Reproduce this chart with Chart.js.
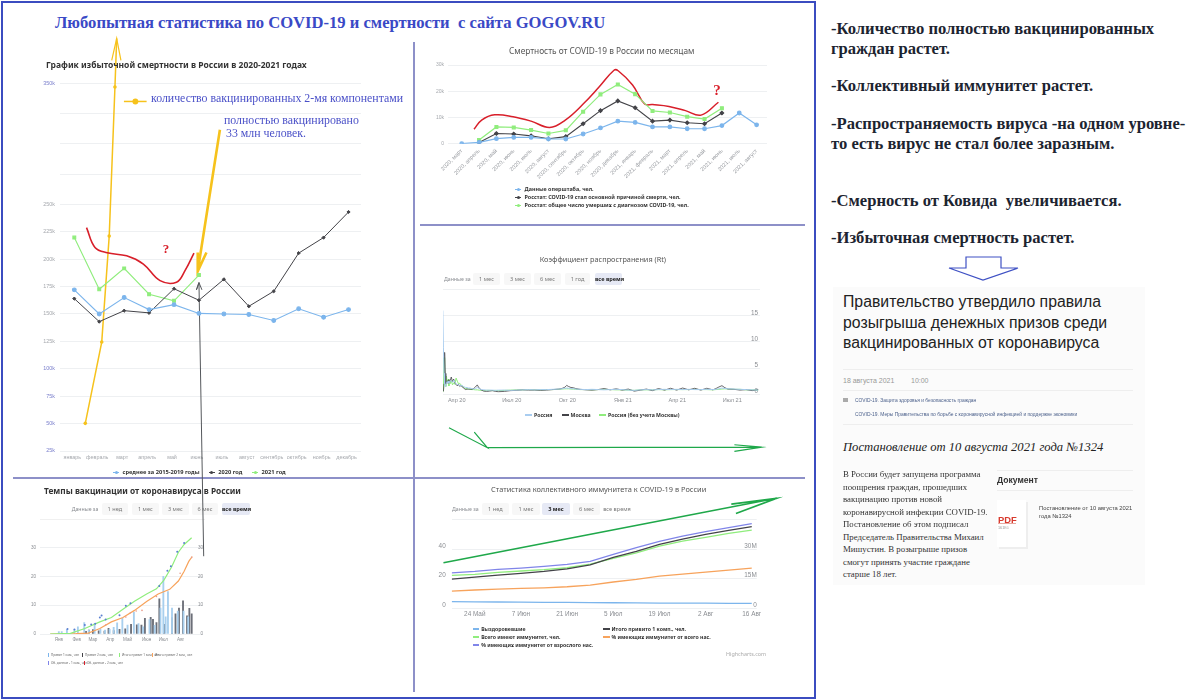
<!DOCTYPE html>
<html lang="ru">
<head>
<meta charset="utf-8">
<title>Статистика COVID-19</title>
<script src="https://cdn.jsdelivr.net/npm/chart.js@4"></script>
<style>
html, body { margin: 0; padding: 0; background: #fff; width: 1200px; height: 699px; overflow: hidden; }
#page { position: absolute; left: 0; top: 0; width: 1200px; height: 699px; font-family: "Noto Sans", sans-serif; }
canvas { position: absolute; }
.t { position: absolute; white-space: nowrap; transform: translateY(-50%); }
.b { position: absolute; }
</style>
</head>
<body>
<div id="page"></div>
<script>
// excess mortality, thousands
var monthNames = ['январь', 'февраль', 'март', 'апрель', 'май', 'июнь', 'июль', 'август', 'сентябрь', 'октябрь', 'ноябрь', 'декабрь'];
var mortTicks = [25, 50, 75, 100, 125, 150, 175, 200, 225, 250, 275, 300, 325, 350];
var mortAvg = [172, 150, 165, 154, 158.5, 150.5, 150, 149.5, 144, 154.7, 147, 154];
var mort2020 = [164, 143, 153, 151, 173, 162.5, 181.6, 157, 170.7, 205.5, 219.7, 243];
var mort2021 = [219.7, 172.5, 191.6, 168, 162, 185.5];
var mortRedX = [0.49, 0.83, 1.32, 2.1, 2.77, 3.44, 4.1, 4.44, 4.8];
var mortRedY = [228.8, 210.7, 205.8, 203, 195.5, 180.4, 179, 189.5, 205.5];
var vacc2X = [0.44, 1.1, 1.4, 1.63];
var vacc2Y = [50.2, 124.4, 221, 347];
var vacc2ArrowX = [1.5, 1.7, 1.87];
var vacc2ArrowY = [369, 387, 369];
var vaccKeyX = [1.99, 2.45, 2.9];
var vaccKeyY = [335, 335, 335];
var fullArrowX = [5.84, 4.95, 4.95, 4.95, 5.3];
var fullArrowY = [311.6, 188.9, 206, 188.9, 206];
var greyArrowX = [5.19, 5.0, 4.9, 5.0, 5.12];
var greyArrowY = [-71, 178.6, 172, 178.6, 172];

// COVID deaths by month, thousands
var deathMonths = ['2020, март', '2020, апрель', '2020, май', '2020, июнь', '2020, июль', '2020, август', '2020, сентябрь', '2020, октябрь', '2020, ноябрь', '2020, декабрь', '2021, январь', '2021, февраль', '2021, март', '2021, апрель', '2021, май', '2021, июнь', '2021, июль', '2021, август'];
var deathsOper = [0, 0.5, 1.9, 2.4, 2.4, 1.8, 1.8, 3.7, 6, 8.6, 8.1, 6.4, 6.4, 5.7, 5.7, 6.9, 11.7, 7.2];
var deathsMain = [null, 0.5, 3.9, 3.7, 3, 1.9, 2.7, 7.6, 12.6, 16.3, 13.7, 8.6, 9, 8, 7.6, 11.7];
var deathsAll = [null, 1.4, 6.4, 6.2, 5.2, 3.9, 5.1, 12.2, 18.8, 22.6, 18.9, 12.5, 11.9, 10.3, 9.4, 13.5];
var deathsRedX = [0.71, 1.15, 1.9, 2.96, 4, 5.07, 5.97, 7, 7.93, 8.78, 9.02, 9.85, 10.55, 11, 11.95, 12.9, 13.8, 14.8];
var deathsRedY = [5.5, 9, 11, 10.3, 8.6, 6.2, 9, 15.1, 21.7, 28, 27.8, 22.4, 15.1, 14.9, 14.2, 12.6, 10.9, 15.8];

// Rt, x is days since 1 March 2020
var rtTickDays = [31, 122, 214, 306, 396, 487];
var rtTickNames = ['Апр 20', 'Июл 20', 'Окт 20', 'Янв 21', 'Апр 21', 'Июл 21'];
var rtDays = [8, 9, 10, 11, 12, 13, 14, 15, 16, 17, 18, 19, 20,
  22, 24, 26, 28, 30, 32, 34, 36, 38, 40, 42, 44, 46, 48, 50,
  53, 56, 59, 62, 65, 68, 72, 76, 80, 85, 90, 95, 100,
  110, 120, 130, 140, 150, 160, 170, 180, 190, 200,
  205, 210, 213, 216, 220, 224, 228, 235,
  245, 255, 265, 275, 285, 295, 305, 315, 325, 335, 345, 355, 365, 375, 385, 395, 405, 415, 425, 435, 445, 455,
  460, 465, 470, 475, 480, 490, 500, 510, 520, 530];
var rtRussia = [16, 9, 4, 2, 1.5, 1.8, 2.2, 2.4, 2.2, 2.5, 2.1, 2.4, 2.6,
  2.5, 2.3, 2.7, 2.3, 2, 1.9, 1.8, 1.7, 1.6, 1.7, 1.5, 1.4, 1.3, 1.3, 1.2,
  1.2, 1.1, 1, 1.1, 1.3, 1.1, 0.9, 0.85, 0.8, 0.8, 0.8, 0.75, 0.8,
  0.8, 0.75, 0.8, 0.85, 0.9, 0.85, 0.9, 0.9, 0.95, 1,
  1.05, 1.15, 1.2, 1.15, 1.1, 1.05, 1, 0.95,
  0.9, 0.95, 0.9, 0.85, 0.9, 0.95, 0.9, 0.8, 0.75, 0.85, 0.9, 0.85, 0.9, 0.95, 0.9, 0.95, 0.9, 0.95, 0.9, 0.9, 0.95, 0.9,
  0.95, 1.05, 1.2, 1.1, 1.05, 1, 0.95, 0.9, 0.85, 0.8];
var rtMoscow = [0.5, 0.6, 2, 8, 4, 2, 2.4, 2.2, 2.6, 2.1, 2.8, 2.3, 2.5,
  3.3, 2.4, 2.9, 2.1, 1.9, 1.6, 1.9, 1.5, 1.7, 1.4, 1.3, 1, 0.9, 1, 1,
  1, 0.95, 1.1, 1.4, 1.8, 1.2, 0.8, 0.6, 0.55, 0.6, 0.7, 0.55, 0.5,
  0.55, 0.7, 0.75, 0.85, 0.8, 0.8, 0.75, 0.8, 0.9, 1,
  1.1, 1.35, 1.7, 1.5, 1.3, 1.25, 1.1, 0.95,
  0.85, 0.8, 0.9, 1.1, 0.85, 1.05, 0.8, 1, 0.6, 0.8, 1, 0.7, 1.1, 0.8, 1.15, 0.8, 1.2, 0.85, 1.15, 0.8, 1.15, 0.85,
  1.1, 1.4, 1.65, 1.25, 1, 0.95, 0.8, 0.9, 0.7, 0.9];
var rtRegions = [0.4, 1, 7, 4, 2, 1.5, 3.5, 2.2, 2.5, 2.9, 1.6, 2.4, 2,
  2.6, 1.8, 2.2, 1.9, 3.1, 2.5, 2, 2.1, 1.8, 1.6, 1.4, 1.2, 1.1, 1.05, 1,
  0.95, 0.9, 0.9, 0.85, 0.85, 0.8, 0.75, 0.7, 0.75, 0.75, 0.7, 0.75, 0.7,
  0.75, 0.8, 0.85, 0.85, 0.9, 0.85, 0.85, 0.9, 0.9, 0.95,
  1, 1.05, 1.05, 1.05, 1, 1, 0.95, 0.9,
  0.9, 0.85, 0.9, 0.95, 0.9, 0.85, 0.85, 0.8, 0.75, 0.85, 0.85, 0.85, 0.9, 0.85, 0.9, 0.9, 0.9, 0.9, 0.95, 0.9, 0.9, 0.85,
  0.9, 0.95, 1, 1.05, 1, 0.95, 0.95, 0.85, 0.85, 0.8];
var rtArrowX = [18.2, 81.6, 60.1, 81.6, 536, 490.6, 536, 490.6];
var rtArrowY = [-6.38, -10.2, -7.22, -10.2, -10.1, -9.64, -10.1, -10.9];

// vaccination pace, millions, x is days from the left edge of the plot
var vaccTickDays = [15, 46, 74, 104, 134, 167, 196, 226];
var vaccTickNames = ['Янв', 'Фев', 'Мар', 'Апр', 'Май', 'Июн', 'Июл', 'Авг'];
var vaccLabels = ['0', '10', '20', '30'];
var firstDays = [0, 35, 60, 86, 106, 126, 146, 167, 184, 197, 210, 222, 232, 245];
var firstTotal = [0, 0.2, 1.9, 4.2, 5.7, 8.6, 11.4, 13.9, 15.7, 18.7, 23.2, 28.4, 31.1, 33.4];
var secondDays = [0, 45, 66, 86, 106, 126, 146, 167, 187, 207, 222, 232, 240, 246];
var secondTotal = [0, 0.1, 0.3, 1.9, 4.2, 5.7, 8.2, 11.25, 13.9, 15.5, 18.4, 21.8, 25.2, 26.9];
var dose1Days = [16, 21, 30, 43, 49, 60, 68, 78, 88, 96, 104, 111, 117, 126, 135, 146, 154, 162, 173, 182, 192, 197, 201, 205, 212, 222, 232, 240];
var dose1 = [0.8, 0.8, 1.6, 1.6, 2.5, 4, 1.4, 3.6, 1.7, 1.4, 1.6, 2.3, 3.9, 5.4, 3.1, 7.6, 3.6, 2.5, 5, 3, 9, 20, 6, 14.7, 9, 8, 8, 6];
var dose2Days = [61, 66, 73, 83, 93, 100, 109, 119, 129, 139, 149, 157, 163, 173, 177, 183, 188, 196, 210, 216, 222, 229, 236, 240, 244];
var dose2 = [0.9, 1.4, 1.5, 1.1, 1, 2, 1.2, 1.6, 1.8, 3.4, 3.2, 3.1, 5.4, 5.8, 5.1, 4, 12.2, 3.4, 5.7, 7, 9, 11.5, 6.3, 8.9, 7];
var dotsBlueDays = [30, 42, 60, 71, 78, 86, 89, 96, 120, 131, 139, 189, 203, 209, 220, 232];
var dotsBlue = [1.7, 1.6, 3.1, 3.3, 3.6, 5.7, 6.4, 5, 6.5, 9.8, 10.7, 16.7, 22, 23.5, 28.6, 31.6];
var dotsRedDays = [96, 131, 139, 149, 159, 184, 225, 245];
var dotsRed = [3.1, 5.9, 7.4, 8, 8.2, 13, 21.1, 26.6];

// herd immunity, percent, x is days since 17 May 2021
var immTickDays = [7, 21, 35, 49, 63, 77, 91];
var immTickNames = ['24 Май', '7 Июн', '21 Июн', '5 Июл', '19 Июл', '2 Авг', '16 Авг'];
var immDays = [0, 7, 14, 21, 28, 35, 42, 49, 56, 63, 70, 77, 84, 91];
var immAdult = [24, 24.9, 26.3, 27.2, 28.3, 29.7, 31.7, 36.4, 40.9, 45.2, 48.8, 51.7, 54.4, 57.1];
var immVaccinated = [19.8, 21.1, 22.5, 23.6, 24.9, 26.7, 29.4, 34.4, 38.4, 43.1, 46.7, 49.9, 52.6, 55.1];
var immTotal = [22.2, 22.9, 24.3, 25.2, 26.1, 27.4, 29.9, 33.7, 37.5, 42, 45.4, 47.9, 50.6, 52.8];
var immShare = [11.7, 12.4, 13, 13.5, 13.9, 14.6, 15.7, 17.8, 19.6, 21.8, 23.1, 24.5, 25.8, 27.2];
var immRecovered = [4.5, 4.4, 4.3, 4.2, 4.1, 4, 3.9, 3.8, 3.7, 3.6, 3.5, 3.5, 3.4, 3.4];
var immArrowX = [-2.5, 98.5, 84.8, 98.5, 86.2];
var immArrowY = [30.8, 74.2, 70.3, 74.2, 64];

var BLUE = '#7cb5ec', DARK = '#434348', GREEN = '#90ed7d', ORANGE = '#f7a35c', PURPLE = '#8085e9';
var RED = '#d81f2a', YELLOW = '#f6c21c', ARROW = '#1fa84a', LINK = '#4a50c8';
var GRID = '#eef0f2';
var CAPTION = 'color:#555;filter:blur(.2px);';

var page = document.getElementById('page');

function txt(x, y, s, css) {
    var el = document.createElement('div');
    el.className = 't';
    el.style.cssText = 'left:' + x + 'px;top:' + y + 'px;' + css;
    el.textContent = s;
    page.appendChild(el);
    return el;
}

function rect(x, y, w, h, css) {
    var el = document.createElement('div');
    el.className = 'b';
    el.style.cssText = 'left:' + x + 'px;top:' + y + 'px;width:' + w + 'px;height:' + h + 'px;' + css;
    page.appendChild(el);
    return el;
}

function pts(xs, ys) {
    var out = [];
    for (var i = 0; i < ys.length; i++) {
        out.push({x: xs[i], y: ys[i]});
    }
    return out;
}

function seq(ys) {
    return pts(ys.map(function (v, i) { return i; }), ys);
}

function line(data, color, width, radius, extra) {
    return Object.assign({
        type: 'line', data: data, borderColor: color, backgroundColor: color,
        borderWidth: width, pointRadius: radius, pointHoverRadius: radius, tension: 0, fill: false
    }, extra || {});
}

function arrow(data, color, width) {
    return line(data, color, width, 0, {clip: false});
}

// the canvas is box, the axes are forced to land exactly on plot
// scale labels get clipped to the scale box, so the scales take all of the margin
function makeChart(box, plot, datasets, scales, css) {
    var c = document.createElement('canvas');
    c.width = box.w;
    c.height = box.h;
    c.style.cssText = 'left:' + box.x + 'px;top:' + box.y + 'px;width:' + box.w + 'px;height:' + box.h + 'px;' + (css || '');
    page.appendChild(c);
    var marginL = plot.l - box.x;
    var marginB = box.y + box.h - plot.b;
    var hasLeft = false;
    scales.x.afterFit = function (s) { s.height = marginB; };
    Object.keys(scales).forEach(function (k) {
        if (k != 'x') {
            var isRight = scales[k].position == 'right';
            if (!isRight) {
                hasLeft = true;
            }
            scales[k].afterFit = function (s) { s.width = isRight ? 0 : marginL; };
        }
        scales[k].border = scales[k].border || {display: false};
        scales[k].grid = Object.assign({drawTicks: false}, scales[k].grid);
    });
    return new Chart(c.getContext('2d'), {
        data: {datasets: datasets},
        options: {
            responsive: false,
            animation: false,
            layout: {padding: {left: hasLeft ? 0 : marginL, top: plot.t - box.y, right: box.x + box.w - plot.r, bottom: 0}},
            plugins: {legend: {display: false}, tooltip: {enabled: false}},
            events: [],
            scales: scales
        }
    });
}

function fixedTicks(values) {
    return function (s) {
        s.ticks = values.map(function (v) { return {value: v}; });
    };
}

function namedBy(values, names) {
    return function (v) { return names[values.indexOf(v)]; };
}

// the first chart was glued from two pictures, its axis is wider above 250k
var STRETCH = 1.104;
class StretchedScale extends Chart.LinearScale {
    static id = 'stretched';
    static defaults = Chart.LinearScale.defaults;
    getPixelForValue(v) {
        return super.getPixelForValue(v > 250 ? 250 + (v - 250) * STRETCH : v);
    }
}
Chart.register(StretchedScale);

/* ---------- frame ---------- */
rect(1, 1, 811, 694, 'border:2px solid #3b4cc0;');
rect(413, 42, 1.5, 650, 'background:#8d90c8;');
rect(13, 477, 792, 1.5, 'background:#8d90c8;');
rect(420, 224, 385, 1.5, 'background:#8d90c8;');
txt(55, 23, 'Любопытная статистика по COVID-19 и смертности  с сайта GOGOV.RU', 'font:bold 16.6px "Liberation Serif",serif;color:#3a49c6;white-space:pre;');

/* ---------- herd immunity ---------- */
makeChart({x: 432, y: 485, w: 368, h: 175}, {l: 451.7, t: 519.4, r: 756.7, b: 608.4}, [
    line(pts(immDays, immRecovered), BLUE, 1.3, 0),
    line(pts(immDays, immVaccinated), DARK, 1.3, 0),
    line(pts(immDays, immTotal), GREEN, 1.3, 0),
    line(pts(immDays, immShare), ORANGE, 1.3, 0),
    line(pts(immDays, immAdult), PURPLE, 1.3, 0),
    arrow(pts(immArrowX, immArrowY), ARROW, 1.6)
], {
    x: {
        type: 'linear', min: 0, max: 92.5, grid: {display: false}, afterBuildTicks: fixedTicks(immTickDays),
        ticks: {autoSkip: false, maxRotation: 0, padding: 2, color: '#8a8d92', font: {size: 6.4}, callback: namedBy(immTickDays, immTickNames)}
    },
    y: {
        type: 'linear', position: 'left', min: 0, max: 60, grid: {color: GRID},
        ticks: {stepSize: 20, padding: 6, labelOffset: -3, color: '#8a8d92', font: {size: 6.4}, callback: function (v) { return v < 60 ? String(v) : ''; }}
    },
    y2: {
        type: 'linear', position: 'right', min: 0, max: 45, grid: {display: false},
        ticks: {stepSize: 15, mirror: true, padding: 0, labelOffset: -3, color: '#8a8d92', font: {size: 6.4}, callback: function (v) { return v == 0 ? '0' : v < 45 ? v + 'M' : ''; }}
    }
}, 'filter:blur(.35px);');

txt(491, 489, 'Статистика коллективного иммунитета к COVID-19 в России', 'font:7.4px "Noto Sans",sans-serif;' + CAPTION);

function buttons(y, labelX, items) {
    items.forEach(function (b) {
        var bg = b[3] == 'on' ? '#e6e9f5' : b[3] == 'none' ? 'transparent' : '#f7f7f7';
        rect(b[0], y - 6, b[1] - b[0], 12, 'background:' + bg + ';border-radius:2px;');
        txt(b[0], y, b[2], 'width:' + (b[1] - b[0]) + 'px;text-align:center;font:' + (b[3] == 'on' ? 'bold ' : '') + '5.6px "Noto Sans",sans-serif;color:' + (b[3] == 'on' ? '#222' : '#777') + ';filter:blur(.2px);');
    });
    txt(labelX, y, 'Данные за', 'font:5.2px "Noto Sans",sans-serif;color:#8a8d92;filter:blur(.2px);');
}

buttons(509, 452, [[481.7, 509, '1 нед'], [512, 540, '1 мес'], [542, 570, '3 мес', 'on'], [573, 600, '6 мес'], [603, 631, 'все время', 'none']]);

function legendLine(x, y, s, color, w) {
    rect(x, y - 0.7, w, 1.4, 'background:' + color + ';');
    txt(x + w + 2, y, s, 'font:bold 5.2px "Noto Sans",sans-serif;color:#333;filter:blur(.25px);');
}

legendLine(472.7, 629, 'Выздоровевшие', BLUE, 6.5);
legendLine(472.7, 637, 'Всего имеют иммунитет, чел.', GREEN, 6.5);
legendLine(472.7, 645, '% имеющих иммунитет от взрослого нас.', PURPLE, 6.5);
legendLine(603, 629, 'Итого привито 1 комп., чел.', DARK, 6.5);
legendLine(603, 637, '% имеющих иммунитет от всего нас.', ORANGE, 6.5);
txt(726, 654, 'Highcharts.com', 'font:5.4px "Noto Sans",sans-serif;color:#aaa;filter:blur(.2px);');

/* ---------- Rt ---------- */
makeChart({x: 432, y: 285, w: 358, h: 175}, {l: 443, t: 289.6, r: 760, b: 394.3}, [
    line(pts(rtDays, rtRussia), '#a9cdf0', 1, 0),
    line(pts(rtDays, rtMoscow), DARK, 0.8, 0),
    line(pts(rtDays, rtRegions), GREEN, 1, 0),
    arrow(pts(rtArrowX, rtArrowY), ARROW, 1.2)
], {
    x: {
        type: 'linear', min: 8.3, max: 533, grid: {display: false}, afterBuildTicks: fixedTicks(rtTickDays),
        ticks: {autoSkip: false, maxRotation: 0, padding: 3, color: '#8a8d92', font: {size: 5.6}, callback: namedBy(rtTickDays, rtTickNames)}
    },
    y: {
        type: 'linear', position: 'right', min: 0, max: 20, grid: {color: GRID},
        ticks: {stepSize: 5, mirror: true, padding: -2, labelOffset: -3, color: '#8a8d92', font: {size: 6.4}, callback: function (v) { return v < 20 ? String(v) : ''; }}
    }
}, 'filter:blur(.3px);');

txt(539.7, 259, 'Коэффициент распространения (Rt)', 'font:7.3px "Noto Sans",sans-serif;' + CAPTION);
buttons(279, 444, [[473, 500, '1 мес'], [504, 531, '3 мес'], [534, 561, '6 мес'], [565, 590, '1 год'], [595, 622, 'все время', 'on']]);
legendLine(525, 415, 'Россия', '#a9cdf0', 7);
legendLine(561.5, 415, 'Москва', DARK, 7);
legendLine(599, 415, 'Россия (без учета Москвы)', GREEN, 7);

/* ---------- deaths by month ---------- */
makeChart({x: 425, y: 40, w: 365, h: 140}, {l: 448, t: 65, r: 767, b: 143.7}, [
    line(seq(deathsOper), BLUE, 1.2, 1.8),
    line(seq(deathsMain), DARK, 1.1, 1.8, {pointStyle: 'rectRot'}),
    line(seq(deathsAll), GREEN, 1.2, 2, {pointStyle: 'rect'}),
    line(pts(deathsRedX, deathsRedY), RED, 1.5, 0, {tension: 0.4})
], {
    x: {
        type: 'linear', min: -0.79, max: 17.6, grid: {display: false},
        afterBuildTicks: fixedTicks(deathMonths.map(function (m, i) { return i; })),
        ticks: {autoSkip: false, minRotation: 45, maxRotation: 45, padding: 4, color: '#9a9da2', font: {size: 5.6}, callback: function (v) { return deathMonths[v]; }}
    },
    y: {
        type: 'linear', min: 0, max: 30, grid: {color: GRID},
        ticks: {stepSize: 10, padding: 4, color: '#a5a8ad', font: {size: 5}, callback: function (v) { return v == 0 ? '0' : v + 'k'; }}
    }
}, 'filter:blur(.3px);');

txt(509, 50, 'Смертность от COVID-19 в России по месяцам', 'font:8.3px "Noto Sans",sans-serif;' + CAPTION);
txt(717, 90, '?', 'font:bold 15px "Liberation Serif",serif;color:#d81f2a;transform:translate(-50%,-50%);');

function legendDot(x, y, s, color, size) {
    rect(x - 3, y - 0.5, 6, 1, 'background:' + color + ';');
    rect(x - 1.5, y - 1.5, 3, 3, 'background:' + color + ';border-radius:50%;');
    txt(x + 6.5, y, s, 'font:bold ' + size + 'px "Noto Sans",sans-serif;color:#333;filter:blur(.2px);');
}

legendDot(518, 189, 'Данные оперштаба, чел.', BLUE, 5.4);
legendDot(518, 197, 'Росстат: COVID-19 стал основной причиной смерти, чел.', DARK, 5.4);
legendDot(518, 205, 'Росстат: общее число умерших с диагнозом COVID-19, чел.', GREEN, 5.4);

/* ---------- vaccination pace ---------- */
var vaccBars = function (days, values, color) {
    return {type: 'bar', data: pts(days, values), backgroundColor: color, barThickness: 1.2, yAxisID: 'y', order: 3};
};
makeChart({x: 15, y: 525, w: 205, h: 125}, {l: 40, t: 530, r: 203, b: 634}, [
    line(pts(firstDays, firstTotal), GREEN, 1.2, 0, {order: 1}),
    line(pts(secondDays, secondTotal), ORANGE, 1.2, 0, {order: 1}),
    vaccBars(dose1Days, dose1, '#a8cfee'),
    vaccBars(dose2Days, dose2, '#6c6f78'),
    line(pts(dotsBlueDays, dotsBlue), '#5a7fd0', 0, 1, {showLine: false, order: 0}),
    line(pts(dotsRedDays, dotsRed), '#e89a8a', 0, 0.8, {showLine: false, order: 0})
], {
    x: {
        type: 'linear', min: 0, max: 247, grid: {display: false}, afterBuildTicks: fixedTicks(vaccTickDays),
        ticks: {autoSkip: false, maxRotation: 0, padding: 3, color: '#8a8d92', font: {size: 4.6}, callback: namedBy(vaccTickDays, vaccTickNames)}
    },
    y: {
        type: 'linear', position: 'left', min: 0, max: 35.5, grid: {color: GRID},
        ticks: {stepSize: 10, padding: 4, color: '#8a8d92', font: {size: 4.6}, callback: function (v) { return vaccLabels[v / 10]; }}
    },
    y2: {
        type: 'linear', position: 'right', min: 0, max: 35.5, grid: {display: false},
        ticks: {stepSize: 10, mirror: true, padding: 0, color: '#8a8d92', font: {size: 4.6}, callback: function (v) { return vaccLabels[v / 10]; }}
    }
}, 'filter:blur(.5px);');

txt(44, 490, 'Темпы вакцинации от коронавируса в России', 'font:bold 8.3px "Noto Sans",sans-serif;color:#333;filter:blur(.2px);');
buttons(509, 71.7, [[101.7, 128, '1 нед'], [131.7, 159, '1 мес'], [161.7, 189, '3 мес'], [192, 218, '6 мес'], [222, 250, 'все время', 'on']]);
rect(40, 519, 165, 1, 'background:#f0f0f0;');

function tiny(x, y, s, color) {
    rect(x - 3, y - 2, 1.2, 4, 'background:' + color + ';');
    txt(x, y, s, 'font:3.1px "Noto Sans",sans-serif;color:#666;filter:blur(.3px);');
}

tiny(51, 655, 'Привит 1 ком., чел', BLUE);
tiny(85, 655, 'Привит 2 ком., чел', DARK);
tiny(122, 655, 'Итого привит 1 ком., чел', GREEN);
tiny(155, 655, 'Итого привит 2 ком., чел', ORANGE);
tiny(51, 663, 'Об. данные - 1 ком., чел', PURPLE);
tiny(87, 663, 'Об. данные - 2 ком., чел', RED);

/* ---------- excess mortality, on top because its arrows cross the panels below ---------- */
makeChart({x: 15, y: 30, w: 397, h: 660}, {l: 60, t: 83.3, r: 361, b: 451}, [
    line(seq(mortAvg), BLUE, 1.1, 1.9),
    line(seq(mort2020), DARK, 1, 1.6, {pointStyle: 'rectRot'}),
    line(seq(mort2021), GREEN, 1.1, 2, {pointStyle: 'rect'}),
    line(pts(mortRedX, mortRedY), RED, 1.6, 0, {tension: 0.4}),
    arrow(pts(vacc2X.concat([vacc2ArrowX[1]]), vacc2Y.concat([vacc2ArrowY[1]])), YELLOW, 1.5),
    line(pts(vacc2X, vacc2Y), YELLOW, 0, 1.8, {showLine: false, clip: false}),
    arrow(pts(vacc2ArrowX, vacc2ArrowY), YELLOW, 1.2),
    line(pts(vaccKeyX, vaccKeyY), YELLOW, 1.5, [0, 2.2, 0], {clip: false}),
    arrow(pts(fullArrowX, fullArrowY), YELLOW, 2.6),
    arrow(pts(greyArrowX, greyArrowY), '#55585c', 1)
], {
    x: {
        type: 'linear', min: -0.574, max: 11.5, grid: {display: false}, afterBuildTicks: fixedTicks(monthNames.map(function (m, i) { return i; })),
        ticks: {autoSkip: false, maxRotation: 0, padding: 3, labelOffset: -2, color: '#a5a8ad', font: {size: 5.4}, callback: function (v) { return monthNames[v]; }}
    },
    y: {
        type: 'stretched', min: 25, max: 360.4, grid: {color: GRID}, afterBuildTicks: fixedTicks(mortTicks),
        ticks: {
            autoSkip: false, padding: 5, font: {size: 5.4},
            color: function (c) { return (c.tick.value <= 100 || c.tick.value == 350) ? '#7a7fcc' : '#a5a8ad'; },
            callback: function (v) { return (v > 250 && v < 350) ? '' : v + 'k'; }
        }
    }
});

txt(46, 64, 'График избыточной смертности в России в 2020-2021 годах', 'font:bold 8.5px "Noto Sans",sans-serif;color:#333;filter:blur(.2px);');
txt(151, 98, 'количество вакцинированных 2-мя компонентами', 'font:11.85px "Liberation Serif",serif;color:' + LINK + ';');
txt(224, 120, 'полностью вакцинировано', 'font:11.85px "Liberation Serif",serif;color:' + LINK + ';');
txt(226, 132.5, '33 млн человек.', 'font:11.85px "Liberation Serif",serif;color:' + LINK + ';');
txt(166, 249, '?', 'font:bold 13px "Liberation Serif",serif;color:#d81f2a;transform:translate(-50%,-50%);');
legendDot(116, 472, 'среднее за 2015-2019 годы', BLUE, 5.7);
legendDot(211.7, 472, '2020 год', DARK, 5.7);
legendDot(255, 472, '2021 год', GREEN, 5.7);

/* ---------- right column ---------- */
var NOTE = 'font:bold 16.6px "Liberation Serif",serif;color:#1c2430;';
txt(831, 29, '-Количество полностью вакцинированных', NOTE);
txt(831, 49, 'граждан растет.', NOTE);
txt(831, 86, '-Коллективный иммунитет растет.', NOTE);
txt(831, 124, '-Распространяемость вируса -на одном уровне-', NOTE);
txt(831, 144, 'то есть вирус не стал более заразным.', NOTE);
txt(831, 201, '-Смерность от Ковида  увеличивается.', NOTE + 'white-space:pre;');
txt(831, 238, '-Избыточная смертность растет.', NOTE);

var svgNS = 'http://www.w3.org/2000/svg';
var svg = document.createElementNS(svgNS, 'svg');
svg.setAttribute('width', '72');
svg.setAttribute('height', '26');
svg.style.cssText = 'position:absolute;left:948px;top:256px;';
var shape = document.createElementNS(svgNS, 'path');
shape.setAttribute('d', 'M18 1 H53 V12 H70 L35 24 L1 12 H18 Z');
shape.setAttribute('fill', 'none');
shape.setAttribute('stroke', '#3f51c4');
shape.setAttribute('stroke-width', '1.2');
svg.appendChild(shape);
page.appendChild(svg);

rect(833, 287, 312, 298, 'background:#fbfbfb;');
var HEAD = 'font:15.8px "Liberation Sans",sans-serif;color:#222;';
txt(843, 302, 'Правительство утвердило правила', HEAD);
txt(843, 323, 'розыгрыша денежных призов среди', HEAD);
txt(843, 343, 'вакцинированных от коронавируса', HEAD);
rect(843, 369, 290, 1, 'background:#eee;');
txt(843, 380, '18 августа 2021', 'font:7px "Liberation Sans",sans-serif;color:#999;');
txt(911, 380, '10:00', 'font:7px "Liberation Sans",sans-serif;color:#999;');
rect(843, 390, 290, 1, 'background:#eee;');
rect(843, 398, 5, 4, 'background:#aaa;');
txt(855, 400, 'COVID-19. Защита здоровья и безопасность граждан', 'font:4.9px "Liberation Sans",sans-serif;color:#4a5f8a;');
txt(855, 414, 'COVID-19. Меры Правительства по борьбе с коронавирусной инфекцией и поддержке экономики', 'font:4.9px "Liberation Sans",sans-serif;color:#4a5f8a;');
rect(843, 424, 290, 1, 'background:#eee;');
txt(843, 447, 'Постановление от 10 августа 2021 года №1324', 'font:italic 12.6px "Liberation Serif",serif;color:#222;');

var PARA = 'font:8.8px "Liberation Serif",serif;color:#333;';
var paraLines = ['В России будет запущена программа', 'поощрения граждан, прошедших', 'вакцинацию против новой', 'коронавирусной инфекции COVID-19.', 'Постановление об этом подписал', 'Председатель Правительства Михаил', 'Мишустин. В розыгрыше призов', 'смогут принять участие граждане', 'старше 18 лет.'];
paraLines.forEach(function (s, i) {
    txt(843, 474 + i * 12.5, s, PARA);
});

rect(997, 470, 136, 1, 'background:#eee;');
txt(997, 480, 'Документ', 'font:bold 8.6px "Liberation Sans",sans-serif;color:#333;');
rect(997, 490, 136, 1, 'background:#eee;');
rect(997, 500, 29, 47, 'background:#fff;box-shadow:2px 2px 0 #eee;');
txt(998, 519, 'PDF', 'font:bold 9.4px "Liberation Sans",sans-serif;color:#d83a2e;');
rect(998, 523, 18, 1, 'background:#e8a8a0;');
txt(998, 528, '161Кб', 'font:3.8px "Liberation Sans",sans-serif;color:#999;');
txt(1039, 508, 'Постановление от 10 августа 2021', 'font:5.8px "Liberation Sans",sans-serif;color:#444;');
txt(1039, 516, 'года №1324', 'font:5.8px "Liberation Sans",sans-serif;color:#444;');
</script>
</body>
</html>
